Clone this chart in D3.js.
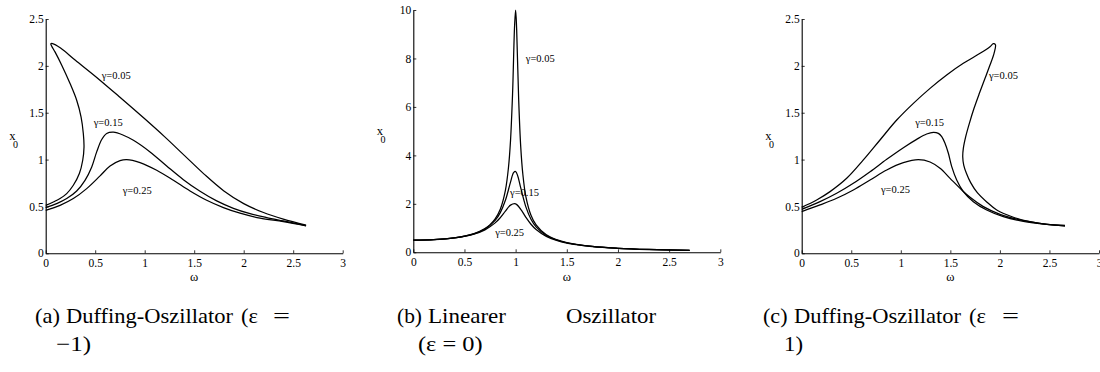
<!DOCTYPE html>
<html><head><meta charset="utf-8">
<script src="https://cdn.jsdelivr.net/npm/d3@7"></script>
<style>html,body{margin:0;padding:0;background:#fff;}svg{display:block;}</style>
</head><body>
<svg id="chart" width="1100" height="372"></svg>
<script>
// ---------------- DATA ----------------
const omegaTicks = [0, 0.5, 1, 1.5, 2, 2.5, 3];
const omegaTickLabels = ["0", "0.5", "1", "1.5", "2", "2.5", "3"];
const ampTicksDuffing = [0, 0.5, 1, 1.5, 2, 2.5];
const ampTickLabelsDuffing = ["0", "0.5", "1", "1.5", "2", "2.5"];
const ampTicksLinear = [0, 2, 4, 6, 8, 10];
const ampTickLabelsLinear = ["0", "2", "4", "6", "8", "10"];
const gammaLabels = ["γ=0.05", "γ=0.15", "γ=0.25"];

// (a) Duffing eps = -1  : [omega, x0]
const softG005 = [[0,0.512],[0.077,0.548],[0.145,0.584],[0.212,0.637],[0.279,0.726],[0.340,0.851],[0.374,0.993],[0.387,1.135],[0.380,1.278],[0.357,1.456],[0.313,1.633],[0.246,1.811],[0.162,2.007],[0.094,2.149],[0.061,2.210],[0.052,2.236],[0.07,2.238],[0.15,2.19],[0.3,2.06],[0.5,1.89],[0.75,1.665],[1.0,1.435],[1.2,1.245],[1.4,1.045],[1.6,0.845],[1.8,0.665],[2.0,0.53],[2.2,0.435],[2.4,0.365],[2.63,0.3]];
const softG015 = [[0,0.488],[0.111,0.530],[0.212,0.584],[0.313,0.665],[0.397,0.779],[0.465,0.922],[0.515,1.082],[0.566,1.214],[0.616,1.278],[0.684,1.292],[0.785,1.26],[0.886,1.206],[1.054,1.082],[1.222,0.932],[1.391,0.786],[1.559,0.662],[1.727,0.559],[1.896,0.48],[2.064,0.423],[2.232,0.381],[2.4,0.345],[2.63,0.296]];
const softG025 = [[0,0.459],[0.145,0.512],[0.279,0.584],[0.414,0.69],[0.549,0.826],[0.65,0.932],[0.751,0.989],[0.818,1.0],[0.953,0.968],[1.121,0.886],[1.29,0.779],[1.458,0.665],[1.626,0.566],[1.795,0.488],[1.963,0.428],[2.165,0.375],[2.4,0.338],[2.63,0.293]];

// (b) linear eps = 0
const linG005 = [[0,0.5],[0.2,0.521],[0.4,0.595],[0.5,0.667],[0.6,0.781],[0.7,0.98],[0.75,1.142],[0.8,1.38],[0.85,1.78],[0.9,2.56],[0.93,3.5],[0.95,4.61],[0.97,6.54],[0.99,9.37],[1.0,10.0],[1.01,9.2],[1.03,6.27],[1.05,4.34],[1.07,3.24],[1.1,2.3],[1.15,1.53],[1.2,1.13],[1.3,0.72],[1.4,0.52],[1.5,0.4],[1.75,0.242],[2.0,0.167],[2.3,0.117],[2.7,0.08]];
const linG015 = [[0,0.5],[0.2,0.52],[0.4,0.594],[0.6,0.774],[0.7,0.96],[0.8,1.318],[0.85,1.637],[0.9,2.145],[0.95,2.895],[0.98,3.285],[1.0,3.333],[1.02,3.16],[1.05,2.66],[1.1,1.873],[1.15,1.367],[1.2,1.052],[1.3,0.697],[1.4,0.509],[1.5,0.394],[1.75,0.24],[2.0,0.166],[2.3,0.116],[2.7,0.079]];
const linG025 = [[0,0.5],[0.2,0.52],[0.4,0.591],[0.6,0.761],[0.7,0.927],[0.8,1.214],[0.85,1.43],[0.9,1.698],[0.95,1.948],[1.0,2.0],[1.05,1.774],[1.1,1.445],[1.15,1.157],[1.2,0.939],[1.3,0.656],[1.4,0.489],[1.5,0.383],[1.75,0.237],[2.0,0.164],[2.3,0.1155],[2.7,0.079]];

// (c) Duffing eps = +1
const hardG005 = [[0,0.491],[0.151,0.569],[0.286,0.658],[0.454,0.80],[0.622,0.996],[0.79,1.209],[0.959,1.422],[1.127,1.60],[1.295,1.76],[1.463,1.903],[1.631,2.027],[1.8,2.134],[1.9,2.205],[1.934,2.237],[1.955,2.225],[1.941,2.134],[1.900,2.009],[1.850,1.867],[1.793,1.707],[1.739,1.547],[1.692,1.387],[1.655,1.245],[1.631,1.120],[1.625,1.031],[1.635,0.942],[1.662,0.854],[1.705,0.754],[1.772,0.647],[1.867,0.548],[1.968,0.462],[2.136,0.385],[2.304,0.337],[2.472,0.309],[2.657,0.298]];
const hardG015 = [[0,0.469],[0.185,0.551],[0.353,0.64],[0.521,0.747],[0.69,0.871],[0.858,1.003],[1.026,1.127],[1.16,1.216],[1.261,1.273],[1.329,1.291],[1.379,1.28],[1.413,1.245],[1.446,1.174],[1.48,1.067],[1.514,0.925],[1.564,0.782],[1.631,0.658],[1.732,0.551],[1.867,0.462],[2.035,0.391],[2.237,0.341],[2.472,0.309],[2.657,0.294]];
const hardG025 = [[0,0.445],[0.185,0.516],[0.353,0.587],[0.521,0.676],[0.69,0.782],[0.858,0.889],[1.026,0.967],[1.177,0.999],[1.295,0.974],[1.396,0.907],[1.497,0.80],[1.598,0.693],[1.699,0.597],[1.833,0.498],[2.001,0.416],[2.203,0.356],[2.438,0.313],[2.657,0.29]];

// annotation anchors in data units [omega, x0]
const labelAnchorsA = [[0.566,1.859],[0.485,1.357],[0.778,0.63]];
const labelAnchorsB = [[1.099,7.85],[0.945,2.32],[0.80,0.67]];
const labelAnchorsC = [[1.89,1.86],[1.145,1.358],[0.80,0.644]];

// captions (text only)
const captionTexts = [
  ["(a)", "Duffing-Oszillator", "(ε", "=", "−1)"],
  ["(b)", "Linearer", "Oszillator", "(ε = 0)"],
  ["(c)", "Duffing-Oszillator", "(ε", "=", "1)"]
];

// ---------------- LAYOUT ----------------
const svg = d3.select("#chart");
svg.append("rect").attr("width",1100).attr("height",372).attr("fill","#fff");
const serif = "'Liberation Serif'";

const panels = [
  {left:45.7, right:342.7, top:19, bottom:253.3, yMax:2.5, yTicks:ampTicksDuffing, yLabels:ampTickLabelsDuffing,
   series:[softG005,softG015,softG025], anchors:labelAnchorsA},
  {left:413.3, right:720.3, top:10, bottom:252.3, yMax:10, yTicks:ampTicksLinear, yLabels:ampTickLabelsLinear,
   series:[linG005,linG015,linG025], anchors:labelAnchorsB},
  {left:801.7, right:1099, top:19, bottom:253.3, yMax:2.5, yTicks:ampTicksDuffing, yLabels:ampTickLabelsDuffing,
   series:[hardG005,hardG015,hardG025], anchors:labelAnchorsC}
];

panels.forEach(p => {
  const x = d3.scaleLinear().domain([0,3]).range([p.left, p.right]);
  const y = d3.scaleLinear().domain([0,p.yMax]).range([p.bottom, p.top]);
  const g = svg.append("g");

  const xAxis = d3.axisBottom(x).tickValues(omegaTicks)
    .tickFormat((d,i)=>omegaTickLabels[i]).tickSizeInner(-3).tickSizeOuter(0).tickPadding(6);
  const gx = g.append("g").attr("transform",`translate(0,${p.bottom})`).call(xAxis);
  gx.select(".domain").attr("stroke","#000").attr("stroke-width",1.1);
  gx.selectAll(".tick line").attr("stroke","#000").attr("stroke-width",0.8);
  gx.selectAll(".tick text").style("font-family",serif).attr("font-size",11.5).attr("fill","#000");

  const yAxis = d3.axisLeft(y).tickValues(p.yTicks)
    .tickFormat((d,i)=>p.yLabels[i]).tickSizeInner(-3).tickSizeOuter(0).tickPadding(2);
  const gy = g.append("g").attr("transform",`translate(${p.left},0)`).call(yAxis);
  gy.select(".domain").attr("stroke","#000").attr("stroke-width",1.1);
  gy.selectAll(".tick line").attr("stroke","#000").attr("stroke-width",0.8);
  gy.selectAll(".tick text").style("font-family",serif).attr("font-size",11.5).attr("fill","#000");

  const line = d3.line().x(d=>x(d[0])).y(d=>y(d[1])).curve(d3.curveCatmullRom.alpha(0.5));
  p.series.forEach(s => {
    g.append("path").attr("d", line(s)).attr("fill","none").attr("stroke","#000").attr("stroke-width",1.25);
  });

  p.anchors.forEach((a,i) => {
    g.append("text").attr("x", x(a[0])).attr("y", y(a[1]))
      .style("font-family",serif).attr("font-size",10.5).attr("fill","#000").text(gammaLabels[i]);
  });

  const cx = (p.left+p.right)/2, cy = (p.top+p.bottom)/2;
  g.append("text").attr("x",cx).attr("y",281).attr("text-anchor","middle")
    .style("font-family",serif).attr("font-size",12.5).text("ω");
  const xl = g.append("text").attr("x",p.left-36.5).attr("y",cy+4)
    .style("font-family",serif).attr("font-size",12.5);
  xl.append("tspan").text("x");
  xl.append("tspan").attr("dx",-2.5).attr("dy",8).attr("font-size",10).text("0");
});

// captions: word boxes emulate justified Computer Modern layout
const capLayout = [
  [{x:35,y:323,w:25},{x:66,y:323,w:167},{x:241,y:323,w:17},{x:273,y:323,w:17},{x:56,y:351,w:35}],
  [{x:397,y:323,w:25},{x:428,y:323,w:78},{x:566,y:323,w:90},{x:418,y:351,w:64.6}],
  [{x:763,y:323,w:24.5},{x:794,y:323,w:167},{x:969,y:323,w:17},{x:1002,y:323,w:17},{x:784,y:351,w:19}]
];
const capData = [];
captionTexts.forEach((words,i)=>words.forEach((t,j)=>capData.push(Object.assign({t}, capLayout[i][j]))));
svg.append("g").selectAll("text").data(capData).join("text")
  .attr("x",d=>d.x).attr("y",d=>d.y).style("font-family",serif).attr("font-size",21)
  .attr("textLength",d=>d.w).attr("lengthAdjust","spacingAndGlyphs").attr("fill","#000").text(d=>d.t);
</script>
</body></html>
